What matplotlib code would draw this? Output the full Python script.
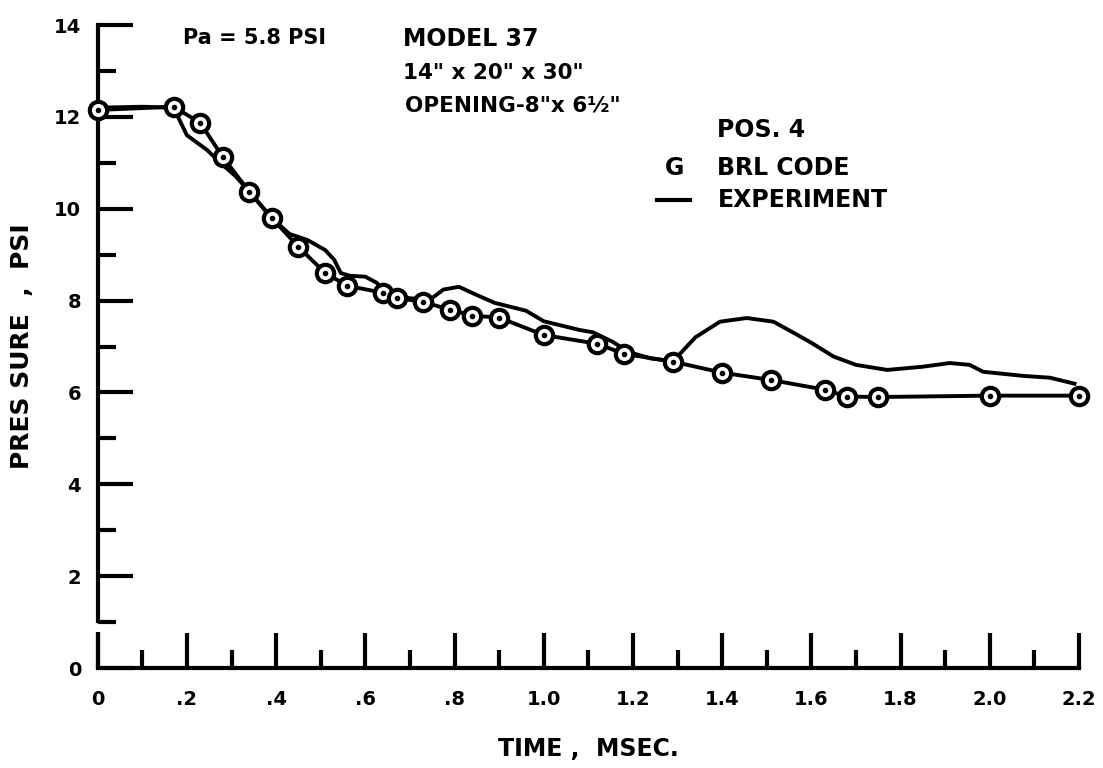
import matplotlib.pyplot as plt
from matplotlib.lines import Line2D

# BRL code points (circles)
brl_time = [0.0, 0.17, 0.23, 0.28, 0.34, 0.39, 0.45, 0.51, 0.56, 0.64, 0.67, 0.73, 0.79,
	0.84, 0.90, 1.00, 1.12, 1.18, 1.29, 1.40, 1.51, 1.63, 1.68, 1.75, 2.00, 2.20]
brl_pressure = [12.15, 12.22, 11.87, 11.13, 10.37, 9.80, 9.17, 8.60, 8.32, 8.17, 8.06, 7.97, 7.80,
	7.67, 7.63, 7.25, 7.06, 6.84, 6.67, 6.43, 6.27, 6.06, 5.91, 5.90, 5.93, 5.93]

# experiment trace
exp_time = [0.0, 0.10, 0.17, 0.20, 0.245, 0.275, 0.31, 0.34, 0.39, 0.43, 0.47, 0.51, 0.53,
	0.545, 0.565, 0.60, 0.625, 0.65, 0.70, 0.745, 0.775, 0.81, 0.85, 0.89, 0.96, 1.0,
	1.08, 1.11, 1.155, 1.19, 1.24, 1.29, 1.34, 1.395, 1.455, 1.515, 1.56, 1.60, 1.65,
	1.70, 1.77, 1.85, 1.91, 1.955, 1.985, 2.075, 2.135, 2.19]
exp_pressure = [12.2, 12.22, 12.2, 11.6, 11.28, 11.0, 10.7, 10.37, 9.8, 9.45, 9.32, 9.1, 8.89,
	8.6, 8.54, 8.52, 8.39, 8.15, 8.05, 8.02, 8.24, 8.30, 8.12, 7.95, 7.78, 7.55,
	7.36, 7.31, 7.10, 6.88, 6.74, 6.68, 7.2, 7.54, 7.62, 7.54, 7.3, 7.08, 6.78,
	6.60, 6.49, 6.56, 6.64, 6.60, 6.45, 6.36, 6.32, 6.19]

x_major = [0, 0.2, 0.4, 0.6, 0.8, 1.0, 1.2, 1.4, 1.6, 1.8, 2.0, 2.2]
x_labels = ['0', '.2', '.4', '.6', '.8', '1.0', '1.2', '1.4', '1.6', '1.8', '2.0', '2.2']
x_minor = [0.1, 0.3, 0.5, 0.7, 0.9, 1.1, 1.3, 1.5, 1.7, 1.9, 2.1]
y_major = [0, 2, 4, 6, 8, 10, 12, 14]
y_minor = [1, 3, 5, 7, 9, 11, 13]

W, H = 1103, 768
fig = plt.figure(figsize=(W / 100, H / 100), dpi=100)
ax = fig.add_axes([97.7 / W, 1 - 668 / H, (1079 - 97.7) / W, (668 - 25) / H])

ax.plot(exp_time, exp_pressure, color='black', lw=2.8, clip_on=False)
ax.plot(brl_time, brl_pressure, color='black', lw=2.8, marker='o', ms=12.5,
	mfc='white', mec='black', mew=3, clip_on=False, zorder=3)
ax.plot(brl_time, brl_pressure, ls='none', marker='o', ms=3, color='black',
	clip_on=False, zorder=4)

ax.set_xlim(0, 2.2)
ax.set_ylim(0, 14)
ax.spines['top'].set_visible(False)
ax.spines['right'].set_visible(False)
for s in ('left', 'bottom'):
	ax.spines[s].set_linewidth(3)
ax.spines['left'].set_bounds(1.02, 14)
# short piece of the broken y axis near zero
ax.plot([0, 0], [0, 0.78], color='black', lw=3, clip_on=False, solid_capstyle='butt')

ax.set_xticks(x_major)
ax.set_xticklabels(x_labels)
ax.set_xticks(x_minor, minor=True)
ax.set_yticks(y_major)
ax.set_yticks(y_minor, minor=True)
ax.tick_params(which='major', direction='in', length=25, width=3, labelsize=14, pad=16)
ax.tick_params(which='minor', direction='in', length=13, width=3)
ax.tick_params(axis='y', which='both', pad=12)
for lab in ax.get_xticklabels() + ax.get_yticklabels():
	lab.set_fontweight('bold')

ax.set_xlabel('TIME ,  MSEC.', fontsize=17, fontweight='bold', labelpad=20)
ax.set_ylabel('PRES SURE  ,  PSI', fontsize=18, fontweight='bold', labelpad=14)


def put(px, py, s, size=15.5):
	fig.text(px / W, 1 - py / H, s, fontsize=size, fontweight='bold', va='center')


put(183, 38, 'Pa = 5.8 PSI', 15)
put(403, 39, 'MODEL 37', 17)
put(403, 73, '14" x 20" x 30"')
put(405, 105, 'OPENING-8"x 6½"')
put(717, 130, 'POS. 4', 17)
put(665, 168, 'G', 17)
put(717, 168, 'BRL CODE', 17)
put(718, 200, 'EXPERIMENT', 17)
fig.add_artist(Line2D([657 / W, 690 / W], [1 - 200 / H, 1 - 200 / H], color='black', lw=3))

fig.savefig('out.png', dpi=100)
